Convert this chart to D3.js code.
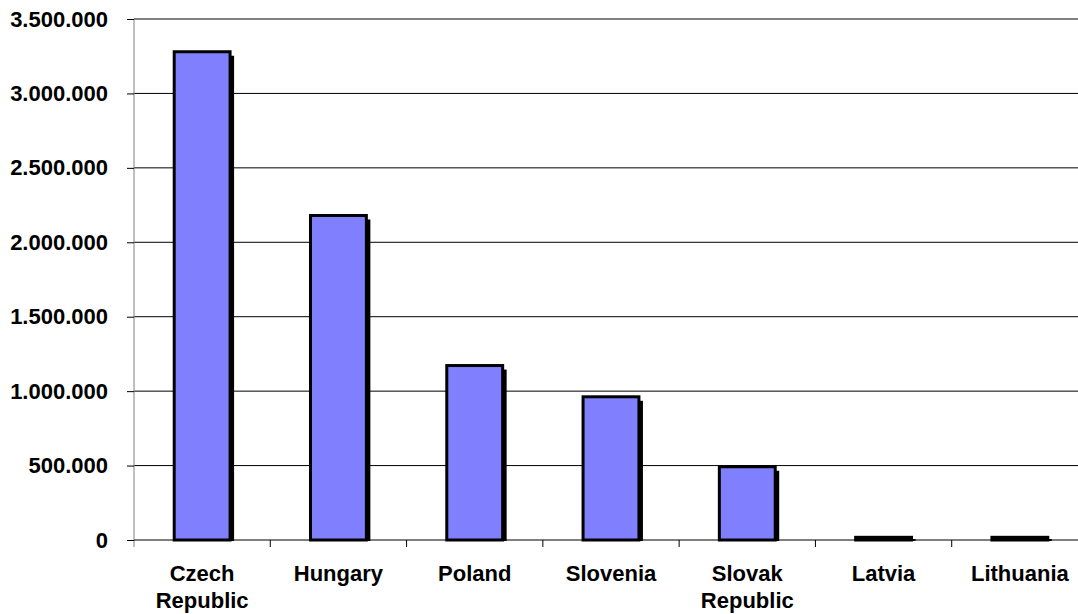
<!DOCTYPE html>
<html>
<head>
<meta charset="utf-8">
<script src="https://cdn.jsdelivr.net/npm/d3@7"></script>
<style>
  html, body { margin: 0; padding: 0; background: #fff; }
  svg { display: block; font-family: "Liberation Sans", Arial, sans-serif; font-weight: bold; }
</style>
</head>
<body>
<svg id="chart" width="1078" height="614"></svg>
<script>
"use strict";

// chart values
const countries = ["Czech Republic", "Hungary", "Poland", "Slovenia", "Slovak Republic", "Latvia", "Lithuania"];
const values = [3280000, 2180000, 1172000, 962000, 492000, 18000, 18000];
const yTicks = [0, 500000, 1000000, 1500000, 2000000, 2500000, 3000000, 3500000];

const width = 1078;
const height = 614;
const plotLeft = 134, plotRight = 1088, plotTop = 19, plotBottom = 540;

const svg = d3.select("#chart");

let x = d3.scaleBand()
          .domain(countries)
          .range([plotLeft, plotRight])
          .paddingInner(0.59)
          .paddingOuter(0.295);

let y = d3.scaleLinear()
          .domain([0, 3500000])
          .range([plotBottom, plotTop]);

let fmt = d3.formatLocale({decimal: ",", thousands: ".", grouping: [3], currency: ["", ""]}).format(",d");

// horizontal gridlines
svg.append("g")
   .selectAll("line")
   .data(yTicks.slice(1))
   .join("line")
   .attr("x1", plotLeft)
   .attr("x2", width)
   .attr("y1", d => y(d))
   .attr("y2", d => y(d))
   .attr("stroke", "#000")
   .attr("stroke-width", 1);

// y axis
let yAxis = svg.append("g")
   .attr("transform", "translate(" + plotLeft + ",0)")
   .call(d3.axisLeft(y).tickValues(yTicks).tickSize(7).tickPadding(19).tickFormat(fmt));
yAxis.select(".domain").attr("stroke", "#808080").attr("d", "M0," + plotTop + "V" + (plotBottom + 7));
yAxis.selectAll(".tick line").attr("stroke", "#000");
yAxis.selectAll(".tick text")
     .attr("font-size", 22)
     .attr("font-family", "Liberation Sans, Arial, sans-serif")
     .attr("font-weight", "bold")
     .attr("fill", "#000");

// x axis baseline and category separators
svg.append("line")
   .attr("x1", plotLeft).attr("x2", width)
   .attr("y1", plotBottom).attr("y2", plotBottom)
   .attr("stroke", "#000");

let step = x.step();
svg.append("g")
   .selectAll("line")
   .data(countries)
   .join("line")
   .attr("x1", (d, i) => plotLeft + (i + 1) * step)
   .attr("x2", (d, i) => plotLeft + (i + 1) * step)
   .attr("y1", plotBottom)
   .attr("y2", plotBottom + 7)
   .attr("stroke", "#000");

// bar shadows
let shadow = 4;
svg.append("g")
   .selectAll("rect")
   .data(values)
   .join("rect")
   .attr("x", (d, i) => x(countries[i]) + shadow)
   .attr("y", d => Math.min(y(d) + shadow, plotBottom - 1))
   .attr("width", x.bandwidth())
   .attr("height", d => Math.max(plotBottom - y(d) - shadow + 1, 2))
   .attr("fill", "#000");

// bars
svg.append("g")
   .selectAll("rect")
   .data(values)
   .join("rect")
   .attr("x", (d, i) => x(countries[i]))
   .attr("y", d => y(d))
   .attr("width", x.bandwidth())
   .attr("height", d => plotBottom - y(d))
   .attr("fill", "#8080ff")
   .attr("stroke", "#000")
   .attr("stroke-width", 3);

// category labels, wrapped on the space for two-word names
let labels = svg.append("g")
   .selectAll("text")
   .data(countries)
   .join("text")
   .attr("x", d => x(d) + x.bandwidth() / 2)
   .attr("y", 581)
   .attr("text-anchor", "middle")
   .attr("font-size", 22)
   .attr("fill", "#000");

labels.each(function(d)
{
    let words = d.split(" ");
    let t = d3.select(this);
    words.forEach((w, i) =>
    {
        t.append("tspan")
         .attr("x", x(d) + x.bandwidth() / 2)
         .attr("dy", i == 0 ? 0 : 27)
         .text(w);
    });
});
</script>
</body>
</html>
